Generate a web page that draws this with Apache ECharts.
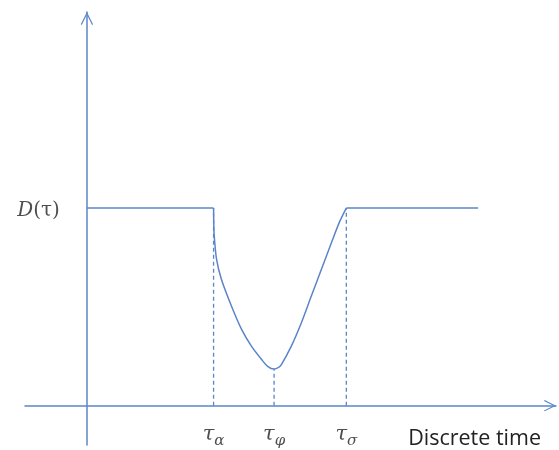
<!DOCTYPE html>
<html>
<head>
<meta charset="utf-8">
<script src="https://cdn.jsdelivr.net/npm/echarts@6/dist/echarts.min.js"></script>
<style>html,body{margin:0;padding:0;background:#fff}#c{width:559px;height:450px}</style>
</head>
<body>
<div id="c"></div>
<script>
// Key times on the discrete time axis
var tauAlpha = 27.0, tauPhi = 39.9, tauSigma = 55.3, tEnd = 83.4;
var dLevel = 50.2;
// Curve D(t): plateau, dip, recovery, plateau
var curveT = [0, 27.0, 27.05, 27.15, 27.65, 28.7, 30.85, 33.0, 35.1, 37.25, 38.6, 39.9, 40.95, 41.45, 43.55, 45.7, 47.8, 49.95, 52.1, 53.9, 55.3, 83.4];
var curveD = [50.2, 50.2, 46.0, 43.0, 37.1, 32.0, 25.2, 19.3, 15.05, 11.7, 9.9, 9.3, 9.8, 10.4, 15.05, 21.0, 27.7, 34.5, 41.3, 46.8, 50.2, 50.2];
var tickTimes = [tauAlpha, tauPhi, tauSigma];
var tickNames = ['α', 'φ', 'σ'];
var dipMin = 9.3;

var color = '#5b85c8';
var textColor = '#222';
var chevron = 'path://M0,10 L5,0 L10,10 L9.2,10.6 L5,2.2 L0.8,10.6 Z';

var curveData = curveT.map(function (t, i) { return [t, curveD[i]]; });
var dashTops = [dLevel, dipMin, dLevel];

var series = [{
  type: 'line',
  data: curveData.slice(0, 2),
  showSymbol: false,
  lineStyle: { color: color, width: 1.5 },
  silent: true
}, {
  type: 'line',
  data: curveData.slice(1, curveData.length - 1),
  smooth: 0.3,
  showSymbol: false,
  lineStyle: { color: color, width: 1.5 },
  silent: true
}, {
  type: 'line',
  data: curveData.slice(curveData.length - 2),
  showSymbol: false,
  lineStyle: { color: color, width: 1.5 },
  silent: true
}];
tickTimes.forEach(function (t, i) {
  series.push({
    type: 'line',
    data: [[t, 0], [t, dashTops[i]]],
    showSymbol: false,
    lineStyle: { color: color, width: 1.3, type: [4, 3] },
    silent: true,
    z: 1
  });
});
// tick labels τ_α, τ_φ, τ_σ under the time axis
series.push({
  type: 'scatter',
  symbolSize: 0,
  silent: true,
  data: tickTimes.map(function (t) { return [t, 0]; }),
  label: {
    show: true,
    position: 'bottom',
    distance: 18,
    formatter: function (p) { return '{t|τ}{s|' + tickNames[p.dataIndex] + '}'; },
    rich: {
      t: { fontFamily: 'DejaVu Serif', fontStyle: 'italic', fontSize: 21, lineHeight: 24, color: textColor, verticalAlign: 'top' },
      s: { fontFamily: 'DejaVu Serif', fontStyle: 'italic', fontSize: 15, lineHeight: 16, color: textColor, verticalAlign: 'top', padding: [10, 0, 0, 0] }
    }
  }
});
// D(τ) label beside the value axis
series.push({
  type: 'scatter',
  symbolSize: 0,
  silent: true,
  data: [[0, dLevel]],
  label: {
    show: true,
    position: 'left',
    distance: 27,
    offset: [0, 3],
    formatter: '{d|D}{p|(τ)}',
    rich: {
      d: { fontFamily: 'DejaVu Serif', fontStyle: 'italic', fontSize: 20, color: textColor },
      p: { fontFamily: 'DejaVu Serif', fontSize: 20, color: textColor }
    }
  }
});

var chart = echarts.init(document.getElementById('c'), null, { renderer: 'canvas' });
chart.setOption({
  animation: false,
  backgroundColor: '#fff',
  grid: { left: 25, right: 3, top: 12, bottom: 5, containLabel: false, outerBoundsMode: 'none' },
  xAxis: {
    type: 'value',
    min: -13.2, max: 100,
    splitLine: { show: false },
    axisTick: { show: false },
    axisLabel: { show: false },
    axisLine: { onZero: true, lineStyle: { color: color, width: 1.5 }, symbol: ['none', chevron], symbolSize: [15, 12], symbolOffset: [0, -6] },
    name: 'Discrete time',
    nameLocation: 'end',
    nameGap: -15,
    nameTextStyle: { fontFamily: 'Open Sans', fontSize: 21.5, color: textColor, align: 'right', verticalAlign: 'top', padding: [22, 0, 0, 0] }
  },
  yAxis: {
    type: 'value',
    min: -10, max: 100,
    splitLine: { show: false },
    axisTick: { show: false },
    axisLabel: { show: false },
    axisLine: { onZero: true, lineStyle: { color: color, width: 1.5 }, symbol: ['none', chevron], symbolSize: [17, 13], symbolOffset: [0, -6.5] }
  },
  series: series
});
</script>
</body>
</html>
